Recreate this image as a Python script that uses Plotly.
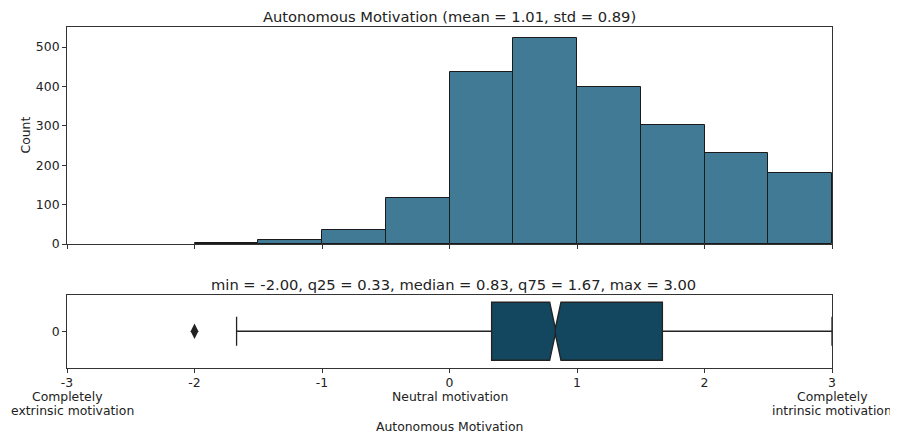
import plotly.graph_objects as go

# ---- data ----
bin_left = [-2.0, -1.5, -1.0, -0.5, 0.0, 0.5, 1.0, 1.5, 2.0, 2.5]
counts = [3, 10, 35, 118, 438, 524, 399, 303, 230, 180]
bin_width = 0.5

box_q1 = 0.33
box_median = 0.83
box_q3 = 1.67
box_lowerfence = -1.67
box_upperfence = 3.0
box_notchspan = 0.044
outliers = [-2.0]

x_tickvals = [-3, -2, -1, 0, 1, 2, 3]
x_ticktext = ["-3", "-2", "-1", "0", "1", "2", "3"]
# descriptive lines below selected ticks: (tick value, line index, text)
tick_notes = [(-3, 1, "Completely"), (-3, 2, "extrinsic motivation"),
              (0, 1, "Neutral motivation"),
              (3, 1, "Completely"), (3, 2, "intrinsic motivation")]
y_tickvals = [0, 100, 200, 300, 400, 500]

title_top = "Autonomous Motivation (mean = 1.01, std = 0.89)"
title_box = "min = -2.00, q25 = 0.33, median = 0.83, q75 = 1.67, max = 3.00"
x_title = "Autonomous Motivation"
y_title = "Count"

# page body has an 8px margin: figure sits at (8, 8) in the 898x434 window
OFF = 8
W, H = 898 - OFF, 434 - OFF
FONT = "DejaVu Sans"
TXT = "#222222"
SPINE = "#333333"
TICK_FS = 12.4
TITLE_FS = 14.7

def px(x):
    return (x - OFF) / W

def py(y):
    return 1 - (y - OFF) / H

fig = go.Figure()

centers = [b + bin_width / 2 for b in bin_left]
fig.add_trace(go.Bar(
    x=centers, y=counts, width=[bin_width] * len(counts),
    marker=dict(color="#417a94", line=dict(color="#1a1a1a", width=1)),
    xaxis="x", yaxis="y", showlegend=False, hoverinfo="skip"))

fig.add_trace(go.Box(
    y=[0], q1=[box_q1], median=[box_median], q3=[box_q3],
    lowerfence=[box_lowerfence], upperfence=[box_upperfence],
    notchspan=[box_notchspan], notched=True, notchwidth=0.45,
    orientation="h", width=0.8, whiskerwidth=0.5,
    fillcolor="#12475f", line=dict(color="#222222", width=1.3),
    boxpoints=False, xaxis="x2", yaxis="y2", showlegend=False))

fig.add_trace(go.Scatter(
    x=outliers, y=[0] * len(outliers), mode="markers",
    marker=dict(symbol="diamond-tall", size=11, color="#222222"),
    xaxis="x2", yaxis="y2", showlegend=False))

axis_common = dict(showline=True, linecolor=SPINE, linewidth=1, mirror=True,
                   ticks="outside", ticklen=4, tickcolor=SPINE, tickwidth=1,
                   showgrid=False, zeroline=False, automargin=False,
                   tickfont=dict(family=FONT, size=TICK_FS, color=TXT))

annotations = [
    dict(text=title_top, x=px(449.5), y=py(16), xref="paper", yref="paper",
         showarrow=False, xanchor="center", yanchor="middle", borderpad=0,
         font=dict(family=FONT, size=TITLE_FS, color=TXT)),
    dict(text=title_box, x=px(453), y=py(284), xref="paper", yref="paper",
         showarrow=False, xanchor="center", yanchor="middle", borderpad=0,
         font=dict(family=FONT, size=TITLE_FS, color=TXT)),
    dict(text=x_title, x=px(449.5), y=py(426), xref="paper", yref="paper",
         showarrow=False, xanchor="center", yanchor="middle",
         font=dict(family=FONT, size=TICK_FS, color=TXT)),
    dict(text=y_title, x=px(25), y=py(135.5), xref="paper", yref="paper",
         showarrow=False, xanchor="center", yanchor="middle", textangle=-90,
         font=dict(family=FONT, size=TICK_FS, color=TXT)),
]
line_y = {1: 396.5, 2: 410}
for val, line, txt in tick_notes:
    shift = 5 if (val == -3 and line == 2) else 0
    annotations.append(dict(
        text=txt, x=val, y=py(line_y[line]), xref="x2", yref="paper",
        showarrow=False, xanchor="center", yanchor="middle", xshift=shift,
        borderpad=0, font=dict(family=FONT, size=TICK_FS, color=TXT)))

fig.update_layout(
    width=W, height=H,
    margin=dict(l=0, r=0, t=0, b=0, pad=0),
    paper_bgcolor="white", plot_bgcolor="white",
    bargap=0,
    xaxis=dict(domain=[px(67), px(832)], range=[-3, 3], anchor="y",
               tickvals=x_tickvals, showticklabels=False, **axis_common),
    yaxis=dict(domain=[py(244), py(27)], range=[0, 551], anchor="x",
               tickvals=y_tickvals, **axis_common),
    xaxis2=dict(domain=[px(67), px(832)], range=[-3, 3], anchor="y2",
                tickvals=x_tickvals, ticktext=x_ticktext, **axis_common),
    yaxis2=dict(domain=[py(367.5), py(295)], range=[0.5, -0.5], anchor="x2",
                tickvals=[0], ticktext=["0"], **axis_common),
    annotations=annotations,
)

fig.write_html("out.html")
